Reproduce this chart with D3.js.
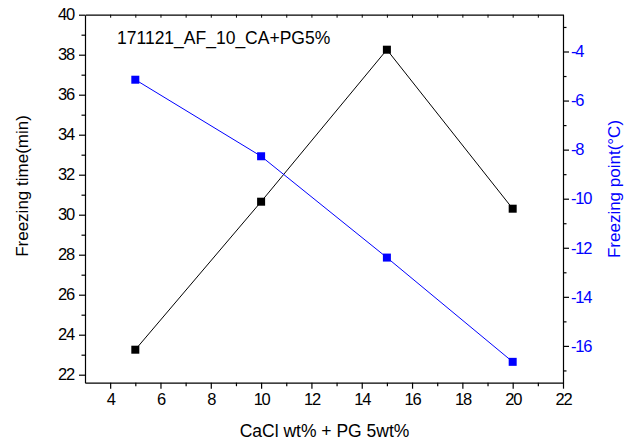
<!DOCTYPE html>
<html><head><meta charset="utf-8">
<script src="https://cdn.jsdelivr.net/npm/d3@7"></script>
<style>body{margin:0;background:#fff}</style>
</head><body><svg id="c" width="630" height="446"></svg>
<script>
const xValues = [5, 10, 15, 20];
const freezingTime = [23.25, 30.65, 38.25, 30.3];
const freezingPoint = [-5.15, -8.27, -12.4, -16.65];
const xMajorTicks = [4, 6, 8, 10, 12, 14, 16, 18, 20, 22];
const xMinorTicks = [5, 7, 9, 11, 13, 15, 17, 19, 21];
const yLeftMajor = [22, 24, 26, 28, 30, 32, 34, 36, 38, 40];
const yLeftMinor = [23, 25, 27, 29, 31, 33, 35, 37, 39];
const yRightMajor = [-4, -6, -8, -10, -12, -14, -16];
const yRightMinor = [-3, -5, -7, -9, -11, -13, -15, -17];
const titleText = "171121_AF_10_CA+PG5%";
const xLabel = "CaCl wt% + PG 5wt%";
const yLeftLabel = "Freezing time(min)";
const yRightLabel = "Freezing point(\u00B0C)";

const L = 85, R = 563, T = 14.7, B = 382.7;
const svg = d3.select("#c");
const x = d3.scaleLinear().domain([3, 22]).range([L, R]);
const yL = d3.scaleLinear().domain([21.6, 40]).range([B, T]);
const yR = d3.scaleLinear().domain([-17.5, -2.5]).range([B, T]);
const font = "'Liberation Sans',Arial,sans-serif";
const fmt = d => String(d);

function styleAxis(g, color) {
  g.select(".domain").attr("stroke", "#000").attr("stroke-width", 1.2);
  g.selectAll(".tick line").attr("stroke", "#000").attr("stroke-width", 1.2);
  g.selectAll(".tick text").attr("fill", color).attr("font-family", font)
    .attr("font-size", 16.5).attr("letter-spacing", "-1.2px");
}

// bottom
const gB = svg.append("g").attr("transform", `translate(0,${B})`)
  .call(d3.axisBottom(x).tickValues(xMajorTicks).tickFormat(fmt).tickSize(6).tickPadding(5).tickSizeOuter(0));
styleAxis(gB, "#000");
svg.append("g").attr("transform", `translate(0,${B})`)
  .call(d3.axisBottom(x).tickValues(xMinorTicks).tickSize(3.5).tickFormat("").tickSizeOuter(0))
  .call(g => { g.select(".domain").remove(); g.selectAll("line").attr("stroke", "#000").attr("stroke-width", 1.2); });

// top
svg.append("g").attr("transform", `translate(0,${T})`)
  .call(d3.axisTop(x).tickValues(xMajorTicks.concat(xMinorTicks)).tickSize(-3).tickFormat("").tickSizeOuter(0))
  .call(g => { g.select(".domain").attr("stroke", "#000").attr("stroke-width", 1.2); g.selectAll("line").attr("stroke", "#000").attr("stroke-width", 1); });

// left
const gL = svg.append("g").attr("transform", `translate(${L},0)`)
  .call(d3.axisLeft(yL).tickValues(yLeftMajor).tickFormat(fmt).tickSize(6).tickPadding(5).tickSizeOuter(0));
styleAxis(gL, "#000");
svg.append("g").attr("transform", `translate(${L},0)`)
  .call(d3.axisLeft(yL).tickValues(yLeftMinor).tickSize(3.5).tickFormat("").tickSizeOuter(0))
  .call(g => { g.select(".domain").remove(); g.selectAll("line").attr("stroke", "#000").attr("stroke-width", 1.2); });

// right
const gR = svg.append("g").attr("transform", `translate(${R},0)`)
  .call(d3.axisRight(yR).tickValues(yRightMajor).tickFormat(fmt).tickSize(6).tickPadding(2).tickSizeOuter(0));
styleAxis(gR, "#0000ff");
svg.append("g").attr("transform", `translate(${R},0)`)
  .call(d3.axisRight(yR).tickValues(yRightMinor).tickSize(3.5).tickFormat("").tickSizeOuter(0))
  .call(g => { g.select(".domain").remove(); g.selectAll("line").attr("stroke", "#000").attr("stroke-width", 1.2); });

// series
const timeData = xValues.map((v, i) => [v, freezingTime[i]]);
const pointData = xValues.map((v, i) => [v, freezingPoint[i]]);
svg.append("path").datum(timeData)
  .attr("fill", "none").attr("stroke", "#000").attr("stroke-width", 1)
  .attr("d", d3.line().x(d => x(d[0])).y(d => yL(d[1])));
svg.append("path").datum(pointData)
  .attr("fill", "none").attr("stroke", "#0000ff").attr("stroke-width", 1)
  .attr("d", d3.line().x(d => x(d[0])).y(d => yR(d[1])));
const S = 8;
svg.selectAll(".mt").data(timeData).join("rect")
  .attr("x", d => x(d[0]) - S / 2).attr("y", d => yL(d[1]) - S / 2)
  .attr("width", S).attr("height", S).attr("fill", "#000");
svg.selectAll(".mp").data(pointData).join("rect")
  .attr("x", d => x(d[0]) - S / 2).attr("y", d => yR(d[1]) - S / 2)
  .attr("width", S).attr("height", S).attr("fill", "#0000ff");

// texts
svg.append("text").attr("x", 117).attr("y", 43.5).attr("font-family", font).attr("font-size", 17.5)
  .attr("fill", "#000").text(titleText);
svg.append("text").attr("x", (239 + 410) / 2).attr("y", 437).attr("text-anchor", "middle")
  .attr("font-family", font).attr("font-size", 17.5).attr("fill", "#000").text(xLabel);
svg.append("text").attr("transform", `translate(27.5,186) rotate(-90)`).attr("text-anchor", "middle")
  .attr("font-family", font).attr("font-size", 17).attr("fill", "#000").text(yLeftLabel);
svg.append("text").attr("transform", `translate(620,189) rotate(-90)`).attr("text-anchor", "middle")
  .attr("font-family", font).attr("font-size", 17).attr("fill", "#0000ff").text(yRightLabel);
</script></body></html>
